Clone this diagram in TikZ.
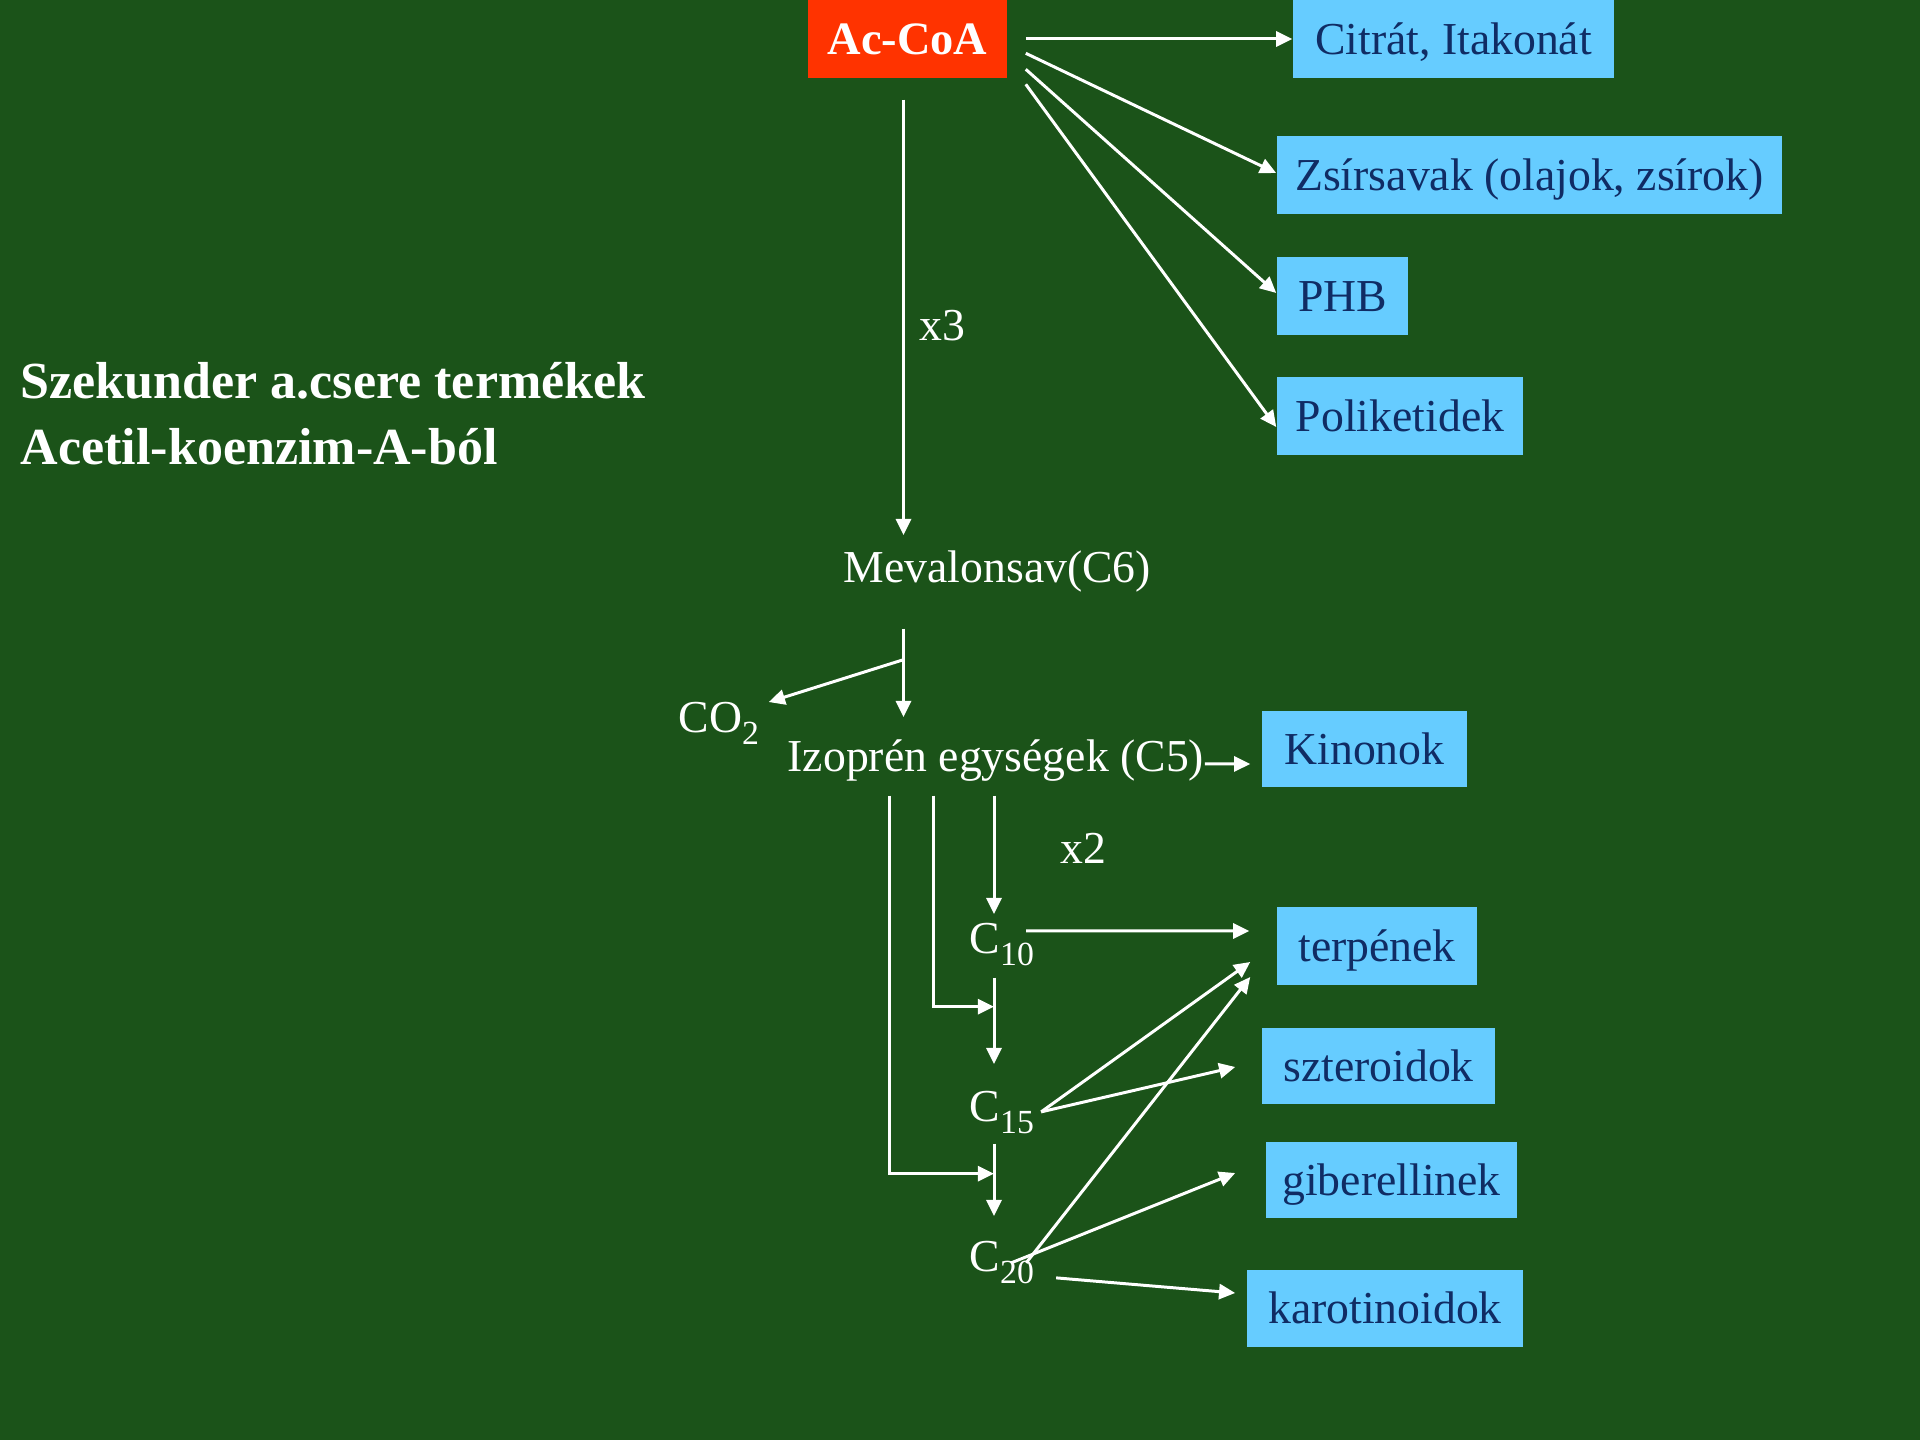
\documentclass[tikz,border=0pt]{standalone}
\usepackage{fontspec}
\setmainfont{Liberation Serif}
\usetikzlibrary{calc,arrows.meta}
\definecolor{slidebg}{RGB}{27,83,25}
\definecolor{accbox}{RGB}{255,51,0}
\definecolor{prodbox}{RGB}{102,204,255}
\definecolor{prodtext}{RGB}{16,44,100}
% lowered index digits (C10, CO2 ...)
\newcommand{\lowsub}[1]{\raisebox{-3.4pt}{\fontsize{9.6}{11}\selectfont #1}}

\begin{document}
\begin{tikzpicture}[x=0.01cm,y=-0.01cm,
  lbl/.style={text=white,font=\fontsize{13}{15}\selectfont,inner sep=0pt,
              text height=8.6pt,text depth=0pt,anchor=base west},
  headline/.style={lbl,font=\bfseries\fontsize{14.8}{18}\selectfont},
  prod/.style={fill=prodbox,text=prodtext,font=\fontsize{13}{15}\selectfont,
               inner sep=0pt,text height=8.6pt,text depth=0pt,minimum height=0.78cm},
  flow/.style={draw=white,line width=0.85pt,-{Triangle[length=4.6pt,width=4.3pt]}}]

% background
\fill[slidebg] (0,0) rectangle (1920,1440);
\useasboundingbox (0,0) rectangle (1920,1440);

% source
\node[fill=accbox,text=white,font=\bfseries\fontsize{13.2}{15}\selectfont,inner sep=0pt,
      text height=8.7pt,text depth=0pt,minimum width=1.99cm,minimum height=0.78cm]
      (acoa) at (907.5,39) {Ac-CoA};

% products
\node[prod,minimum width=3.21cm] (cit)  at (1453.5,39)  {Citrát, Itakonát};
\node[prod,minimum width=5.05cm] (zsir) at (1529.5,175) {Zsírsavak (olajok, zsírok)};
\node[prod,minimum width=1.31cm] (phb)  at (1342.5,296) {PHB};
\node[prod,minimum width=2.46cm] (poli) at (1400,416)   {Poliketidek};
\node[prod,minimum width=2.05cm,minimum height=0.76cm] (kin)  at (1364.5,749)  {Kinonok};
\node[prod,minimum width=2.00cm]                       (terp) at (1377,946)    {terpének};
\node[prod,minimum width=2.33cm,minimum height=0.76cm] (szt)  at (1378.5,1066) {szteroidok};
\node[prod,minimum width=2.51cm,minimum height=0.76cm] (gib)  at (1391.5,1180) {giberellinek};
\node[prod,minimum width=2.76cm,minimum height=0.77cm] (karo) at (1385,1308.5) {karotinoidok};

% intermediates and labels
\node[lbl] (mev) at (843,583)  {Mevalonsav(C6)};
\node[lbl] (izo) at (787,772)  {Izoprén egységek (C5)};
\node[lbl] (co2) at (678,733)  {CO\lowsub{2}};
\node[lbl] (c10) at (969,954)  {C\lowsub{10}};
\node[lbl] (c15) at (969,1122) {C\lowsub{15}};
\node[lbl] (c20) at (969,1272) {C\lowsub{20}};
\node[lbl] (x3)  at (919,341)  {x3};
\node[lbl] (x2)  at (1060,864) {x2};

% heading
\node[headline] (title1) at (20,399) {Szekunder a.csere termékek};
\node[headline] (title2) at (20,465) {Acetil-koenzim-A-ból};

% vertical guide columns
\coordinate (trunk) at ($(acoa.south)+(-4,0)$);
\coordinate (colA) at (994,0);
\coordinate (colB) at (933,0);
\coordinate (colC) at (889,0);

% Ac-CoA fan
\draw[flow] ($(acoa.east)+(18,0)$)    -- (cit.west);
\draw[flow] ($(acoa.east)+(18,14.3)$) -- ($(zsir.west)+(0,-2)$);
\draw[flow] ($(acoa.east)+(18,30.3)$) -- ($(phb.west)+(0,-3)$);
\draw[flow] ($(acoa.east)+(18,45.3)$) -- ($(poli.west)+(0,11)$);

% mevalonate pathway
\draw[flow] ($(acoa.south -| trunk)+(0,21)$) -- ($(mev.north -| trunk)+(0,-17)$);
\draw[flow] ($(mev.south -| trunk)+(0,45)$)  -- ($(izo.north -| trunk)+(0,-24)$);
\draw[flow] ($(mev.south -| trunk)+(0,76)$)  -- ($(co2.north east)+(9,0)$);
\draw[flow] ($(izo.east)+(0,7)$) -- ($(kin.west)+(-11,15)$);

% chain elongation
\draw[flow] ($(izo.south -| colA)+(0,23)$) -- ($(c10.north -| colA)+(0,-9)$);
\draw[flow] ($(c10.south -| colA)+(0,23)$) -- ($(c15.north -| colA)+(0,-27)$);
\draw[flow] ($(c15.south -| colA)+(0,21)$) -- ($(c20.north -| colA)+(0,-25)$);
\draw[flow] ($(izo.south -| colB)+(0,23)$) |- ($(c10.south -| colA)+(0,52)$);
\draw[flow] ($(izo.south -| colC)+(0,23)$) |- ($(c15.south -| colA)+(0,51)$);

% products of the isoprenoids
\draw[flow] ($(c10.east)+(-8.5,-8)$) -- ($(terp.west)+(-27,-15)$);
\draw[flow] ($(c15.east)+(6.5,5)$)   -- ($(terp.west)+(-26,16)$);
\draw[flow] ($(c15.east)+(6.5,5)$)   -- ($(szt.west)+(-26,1)$);
\draw[flow] ($(c20.east)+(-8.5,6)$)  -- ($(terp.west)+(-26,31)$);
\draw[flow] ($(c20.east)+(-23.5,6)$) -- ($(gib.west)+(-30,-7)$);
\draw[flow] ($(c20.east)+(21.5,21)$) -- ($(karo.west)+(-11,-15.5)$);

\end{tikzpicture}
\end{document}
